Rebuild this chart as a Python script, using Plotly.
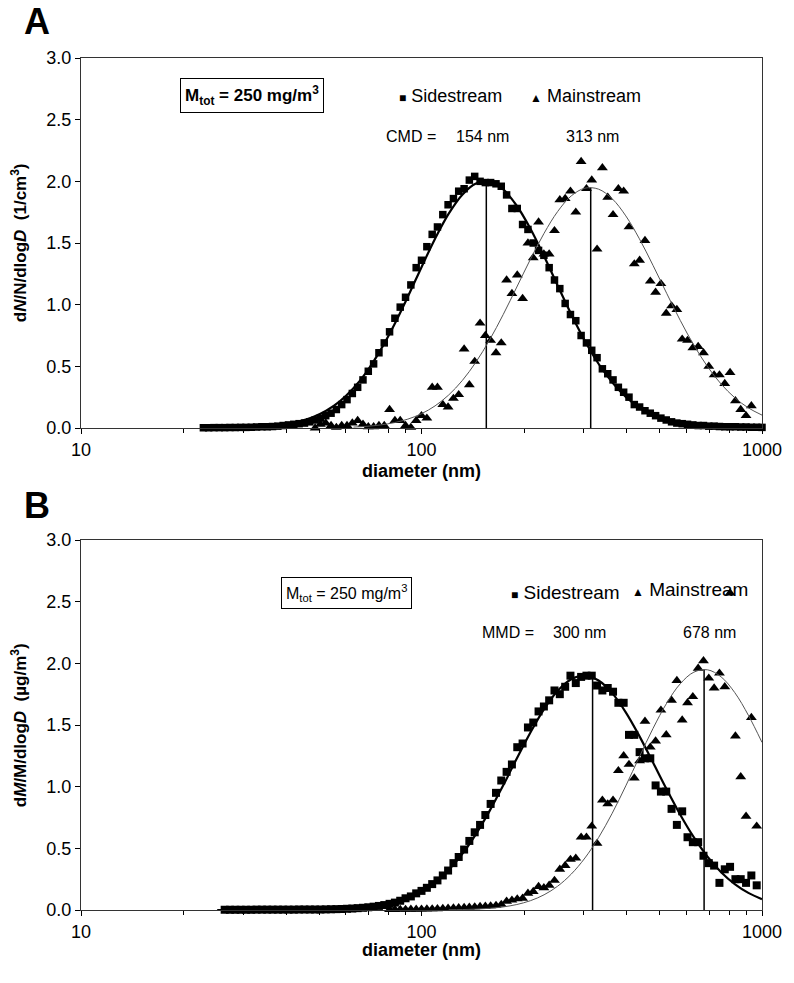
import plotly.graph_objects as go

FONT = "Liberation Sans, Arial, sans-serif"

# SMPS channel mid-point diameters (nm), 64 channels per decade, 22.9 .. 1000 nm
channel_nm = [22.88, 23.71, 24.58, 25.48, 26.42, 27.38, 28.39, 29.43, 30.51, 31.62,
              32.78, 33.98, 35.23, 36.52, 37.86, 39.24, 40.68, 42.17, 43.71, 45.32,
              46.98, 48.70, 50.48, 52.33, 54.25, 56.23, 58.29, 60.43, 62.64, 64.94,
              67.32, 69.78, 72.34, 74.99, 77.74, 80.58, 83.54, 86.60, 89.77, 93.06,
              96.47, 100.0, 103.7, 107.5, 111.4, 115.5, 119.7, 124.1, 128.6, 133.4,
              138.2, 143.3, 148.6, 154.0, 159.6, 165.5, 171.5, 177.8, 184.3, 191.1,
              198.1, 205.4, 212.9, 220.7, 228.8, 237.1, 245.8, 254.8, 264.2, 273.8,
              283.9, 294.3, 305.1, 316.2, 327.8, 339.8, 352.3, 365.2, 378.6, 392.4,
              406.8, 421.7, 437.1, 453.2, 469.8, 487.0, 504.8, 523.3, 542.5, 562.3,
              582.9, 604.3, 626.4, 649.4, 673.2, 697.8, 723.4, 749.9, 777.4, 805.8,
              835.4, 866.0, 897.7, 930.6, 964.7, 1000.0]

# Panel A: number distributions dN/N/dlogD
ss_A = [0.002, 0.002, 0.003, 0.003, 0.003, 0.004, 0.004, 0.005, 0.005, 0.006,
        0.008, 0.010, 0.010, 0.012, 0.015, 0.020, 0.025, 0.030, 0.035, 0.040,
        0.05, 0.065, 0.08, 0.10, 0.12, 0.15, 0.19, 0.23, 0.28, 0.33,
        0.39, 0.46, 0.52, 0.61, 0.69, 0.78, 0.89, 0.98, 1.06, 1.16,
        1.30, 1.36, 1.47, 1.57, 1.63, 1.73, 1.81, 1.86, 1.92, 1.94,
        2.01, 2.04, 2.00, 1.99, 1.99, 1.98, 1.96, 1.89, 1.78, 1.78,
        1.65, 1.61, 1.50, 1.44, 1.40, 1.30, 1.20, 1.13, 1.01, 0.92,
        0.87, 0.75, 0.69, 0.63, 0.57, 0.48, 0.44, 0.39, 0.33, 0.29,
        0.25, 0.19, 0.17, 0.14, 0.12, 0.10, 0.08, 0.065, 0.05, 0.04,
        0.035, 0.03, 0.025, 0.02, 0.02, 0.015, 0.015, 0.012, 0.01, 0.01,
        0.01, 0.008, 0.008, 0.006, 0.006, 0.005]
ms_A = [0.00, 0.03, 0.04, 0.02, 0.005, 0.02, 0.02, 0.04, 0.06, 0.03,
        0.01, 0.01, 0.02, 0.02, 0.15, 0.06, 0.06, 0.02, 0.005, 0.06,
        0.10, 0.08, 0.33, 0.33, 0.19, 0.17, 0.24, 0.27, 0.64, 0.35,
        0.54, 0.85, 0.75, 0.71, 0.61, 0.69, 1.20, 1.09, 1.24, 1.05,
        1.50, 1.38, 1.67, 1.41, 1.41, 1.60, 1.85, 1.86, 1.92, 1.75,
        2.16, 1.94, 2.01, 1.45, 2.11, 1.87, 1.73, 1.94, 1.92, 1.63,
        1.33, 1.36, 1.52, 1.19, 1.10, 1.17, 0.93, 0.99, 0.96, 0.72,
        0.71, 0.65, 0.66, 0.61, 0.50, 0.43, 0.43, 0.36, 0.45, 0.22,
        0.15, 0.10, 0.18]

# Panel B: mass distributions dM/M/dlogD
ss_B = [0.002, 0.002, 0.002, 0.002, 0.002, 0.002, 0.003, 0.003, 0.003, 0.003,
        0.003, 0.003, 0.003, 0.003, 0.004, 0.004, 0.004, 0.004, 0.004, 0.005,
        0.006, 0.007, 0.008, 0.010, 0.012, 0.015, 0.018, 0.022, 0.027, 0.033,
        0.040, 0.050, 0.060, 0.075, 0.095, 0.11, 0.135, 0.155, 0.18, 0.21,
        0.24, 0.28, 0.32, 0.38, 0.43, 0.49, 0.56, 0.63, 0.69, 0.77,
        0.86, 0.95, 1.05, 1.12, 1.18, 1.32, 1.35, 1.48, 1.52, 1.61,
        1.65, 1.70, 1.78, 1.75, 1.81, 1.90, 1.84, 1.89, 1.90, 1.90,
        1.82, 1.78, 1.80, 1.77, 1.68, 1.68, 1.42, 1.42, 1.28, 1.23,
        1.23, 1.01, 0.96, 0.96, 0.82, 0.69, 0.80, 0.59, 0.55, 0.55,
        0.44, 0.38, 0.36, 0.22, 0.33, 0.35, 0.25, 0.25, 0.22, 0.28,
        0.20]
ms_B = [0.004, 0.004, 0.005, 0.005, 0.006, 0.006, 0.007, 0.008, 0.009, 0.010,
        0.012, 0.014, 0.016, 0.018, 0.02, 0.022, 0.025, 0.028, 0.03, 0.033,
        0.037, 0.045, 0.07, 0.08, 0.09, 0.095, 0.135, 0.15, 0.19, 0.18,
        0.20, 0.24, 0.33, 0.36, 0.41, 0.42, 0.59, 0.59, 0.68, 0.54,
        0.89, 0.86, 0.89, 1.13, 1.25, 1.18, 1.07, 1.21, 1.53, 1.32,
        1.37, 1.62, 1.42, 1.70, 1.86, 1.54, 1.68, 1.73, 1.96, 2.02,
        1.88, 1.80, 1.92, 1.81, 2.57, 1.41, 1.08, 0.76, 1.56, 0.68]

# Log-normal fit curves, sampled on a diameter grid (nm)
fit_grid_nm = [22.91, 25.12, 27.54, 30.20, 33.11, 36.31, 39.81, 43.65, 47.86, 52.48,
               57.54, 63.10, 69.18, 75.86, 83.18, 91.20, 100.0, 109.6, 120.2, 131.8,
               144.5, 158.5, 173.8, 190.5, 208.9, 229.1, 251.2, 275.4, 302.0, 331.1,
               363.1, 398.1, 436.5, 478.6, 524.8, 575.4, 631.0, 691.8, 758.6, 831.8,
               912.0, 1000.0]
fit_ss_A = [0.0005, 0.0011, 0.0022, 0.0045, 0.0088, 0.0166, 0.030, 0.052, 0.087, 0.140,
            0.216, 0.322, 0.460, 0.633, 0.837, 1.065, 1.304, 1.535, 1.738, 1.892,
            1.982, 1.996, 1.934, 1.802, 1.615, 1.392, 1.154, 0.921, 0.706, 0.521,
            0.370, 0.252, 0.166, 0.105, 0.064, 0.037, 0.021, 0.011, 0.006, 0.003,
            0.0014, 0.0006]
fit_ms_A = [0.0075, 0.0139, 0.0250, 0.0433, 0.0721, 0.1159, 0.1793, 0.2678, 0.3853, 0.5343,
            0.7143, 0.9204, 1.1431, 1.3685, 1.5789, 1.7558, 1.8822, 1.9446, 1.9366, 1.8589,
            1.7199, 1.5339, 1.3184, 1.0922, 0.8722, 0.6714, 0.4980, 0.3562, 0.2455, 0.1630,
            0.1045]
fit_ss_B = [0.0, 0.0, 0.00003, 0.0001, 0.0002, 0.0003, 0.0007, 0.0015, 0.0030, 0.0059,
            0.0110, 0.0198, 0.0346, 0.0582, 0.0945, 0.1478, 0.2226, 0.3239, 0.4548, 0.6155,
            0.8037, 1.0106, 1.2282, 1.4397, 1.6292, 1.7775, 1.8710, 1.8998, 1.8609, 1.7585,
            1.6030, 1.4099, 1.1953, 0.9780, 0.7722, 0.5883, 0.4325, 0.3068, 0.2100, 0.1386,
            0.0882]
fit_ms_B = [0.0017, 0.0036, 0.0071, 0.0137, 0.0251, 0.0444, 0.0755, 0.1233, 0.1934, 0.2914,
            0.4218, 0.5868, 0.7841, 1.0068, 1.2421, 1.4722, 1.6766, 1.8345, 1.9287, 1.9476,
            1.8900, 1.7626, 1.5789, 1.3589]

# Median diameters (vertical marker lines) and their heights
cmd_A_nm = [155, 314]
cmd_A_top = [2.00, 1.95]
mmd_B_nm = [318, 676]
mmd_B_top = [1.90, 1.95]

x_major = [10, 100, 1000]
x_minor = [20, 30, 40, 50, 60, 70, 80, 90, 200, 300, 400, 500, 600, 700, 800, 900]
y_ticks = [0.0, 0.5, 1.0, 1.5, 2.0, 2.5, 3.0]
y_ticktext = ["0.0", "0.5", "1.0", "1.5", "2.0", "2.5", "3.0"]

fig = go.Figure()


def add_panel(xa, ya, ss_x, ss_y, ms_x, ms_y, fss_x, fss_y, fms_x, fms_y, vx, vtop, sq_size):
    for d, top in zip(vx, vtop):
        fig.add_trace(go.Scatter(x=[d, d], y=[0, top], mode="lines",
                                 line=dict(color="black", width=1.5),
                                 xaxis=xa, yaxis=ya, showlegend=False, hoverinfo="skip"))
    fig.add_trace(go.Scatter(x=ms_x, y=ms_y, mode="markers",
                             marker=dict(symbol="triangle-up", size=9.5, color="black"),
                             xaxis=xa, yaxis=ya, showlegend=False, cliponaxis=False))
    fig.add_trace(go.Scatter(x=ss_x, y=ss_y, mode="markers",
                             marker=dict(symbol="square", size=sq_size, color="black"),
                             xaxis=xa, yaxis=ya, showlegend=False, cliponaxis=False))
    fig.add_trace(go.Scatter(x=fss_x, y=fss_y, mode="lines", line_shape="spline",
                             line=dict(color="black", width=2.2),
                             xaxis=xa, yaxis=ya, showlegend=False, hoverinfo="skip"))
    fig.add_trace(go.Scatter(x=fms_x, y=fms_y, mode="lines", line_shape="spline",
                             line=dict(color="#555555", width=1),
                             xaxis=xa, yaxis=ya, showlegend=False, hoverinfo="skip"))


add_panel("x", "y", channel_nm[0:106], ss_A, channel_nm[21:104], ms_A,
          fit_grid_nm[0:42], fit_ss_A, fit_grid_nm[11:42], fit_ms_A,
          cmd_A_nm, cmd_A_top, 7.5)
add_panel("x2", "y2", channel_nm[4:105], ss_B, channel_nm[35:105], ms_B,
          fit_grid_nm[1:42], fit_ss_B, fit_grid_nm[18:42], fit_ms_B,
          mmd_B_nm, mmd_B_top, 8)

tickfont = dict(family=FONT, size=18, color="black")


def xaxis_cfg(anchor):
    return dict(type="log", range=[1, 3], tickvals=x_major,
                ticktext=[str(v) for v in x_major],
                ticks="outside", ticklen=5, tickcolor="black", tickwidth=1,
                showline=True, linecolor="#333333", linewidth=1, mirror=True,
                showgrid=False, zeroline=False, tickfont=tickfont, anchor=anchor,
                minor=dict(tickvals=x_minor, ticks="outside", ticklen=4,
                           tickcolor="black", showgrid=False))


def yaxis_cfg(domain, anchor):
    return dict(range=[0, 3], domain=domain, tickvals=y_ticks, ticktext=y_ticktext,
                ticks="outside", ticklen=5, tickcolor="black",
                showline=True, linecolor="#333333", linewidth=1, mirror=True,
                showgrid=False, zeroline=False, tickfont=tickfont, anchor=anchor)


def px_x(p):
    return (p - 81) / 683.0


def px_y(p):
    return (910 - p) / 852.0


annotations = []


def txt(text, xp, yp, size, xanchor="left", bold=False, border=False, angle=0):
    a = dict(text=("<b>%s</b>" % text) if bold else text, x=px_x(xp), y=px_y(yp),
             xref="paper", yref="paper", xanchor=xanchor, yanchor="middle",
             showarrow=False, textangle=angle,
             font=dict(family=FONT, size=size, color="black"))
    if border:
        a.update(bordercolor="black", borderwidth=1, borderpad=4, bgcolor="white")
    annotations.append(a)


SQ = "<span style='font-size:12px'>■</span>"
TR = "<span style='font-size:12px'>▲</span>"

# Panel A texts
txt("A", 37, 21, 36, xanchor="center", bold=True)
txt("M<sub>tot</sub> = 250 mg/m<sup>3</sup>", 253, 95, 17, xanchor="center", bold=True, border=True)
txt(SQ + " Sidestream", 398, 96, 18)
txt(TR + " Mainstream", 529, 96, 18)
txt("CMD =", 385, 137, 16)
txt("154 nm", 455, 137, 16)
txt("313 nm", 565, 137, 16)
txt("diameter (nm)", 422, 471, 18, xanchor="center", bold=True)
txt("d<i>N</i>/N/dlog<i>D</i>  (1/cm<sup>3</sup>)", 19, 243, 17, xanchor="center", bold=True, angle=-90)

# Panel B texts
txt("B", 37, 505, 36, xanchor="center", bold=True)
txt("M<sub>tot</sub> = 250 mg/m<sup>3</sup>", 347, 593, 16, xanchor="center", border=True)
txt(SQ + " Sidestream", 510, 592, 19)
txt(TR + " Mainstream", 632, 589, 19)
txt("MMD =", 481, 632, 16)
txt("300 nm", 552, 632, 16)
txt("678 nm", 683, 632, 16)
txt("diameter (nm)", 422, 950, 18, xanchor="center", bold=True)
txt("d<i>M</i>/M/dlog<i>D</i>  (µg/m<sup>3</sup>)", 19, 725, 17, xanchor="center", bold=True, angle=-90)

fig.update_layout(
    width=794, height=983,
    margin=dict(l=81, r=30, t=58, b=73),
    paper_bgcolor="white", plot_bgcolor="white",
    showlegend=False,
    xaxis=xaxis_cfg("y"),
    yaxis=yaxis_cfg([482 / 852.0, 1.0], "x"),
    xaxis2=xaxis_cfg("y2"),
    yaxis2=yaxis_cfg([0.0, 370 / 852.0], "x2"),
    annotations=annotations,
    font=dict(family=FONT, color="black"),
)

fig.write_html("out.html", config={"displayModeBar": False},
               post_script="document.body.style.margin='0px';")
